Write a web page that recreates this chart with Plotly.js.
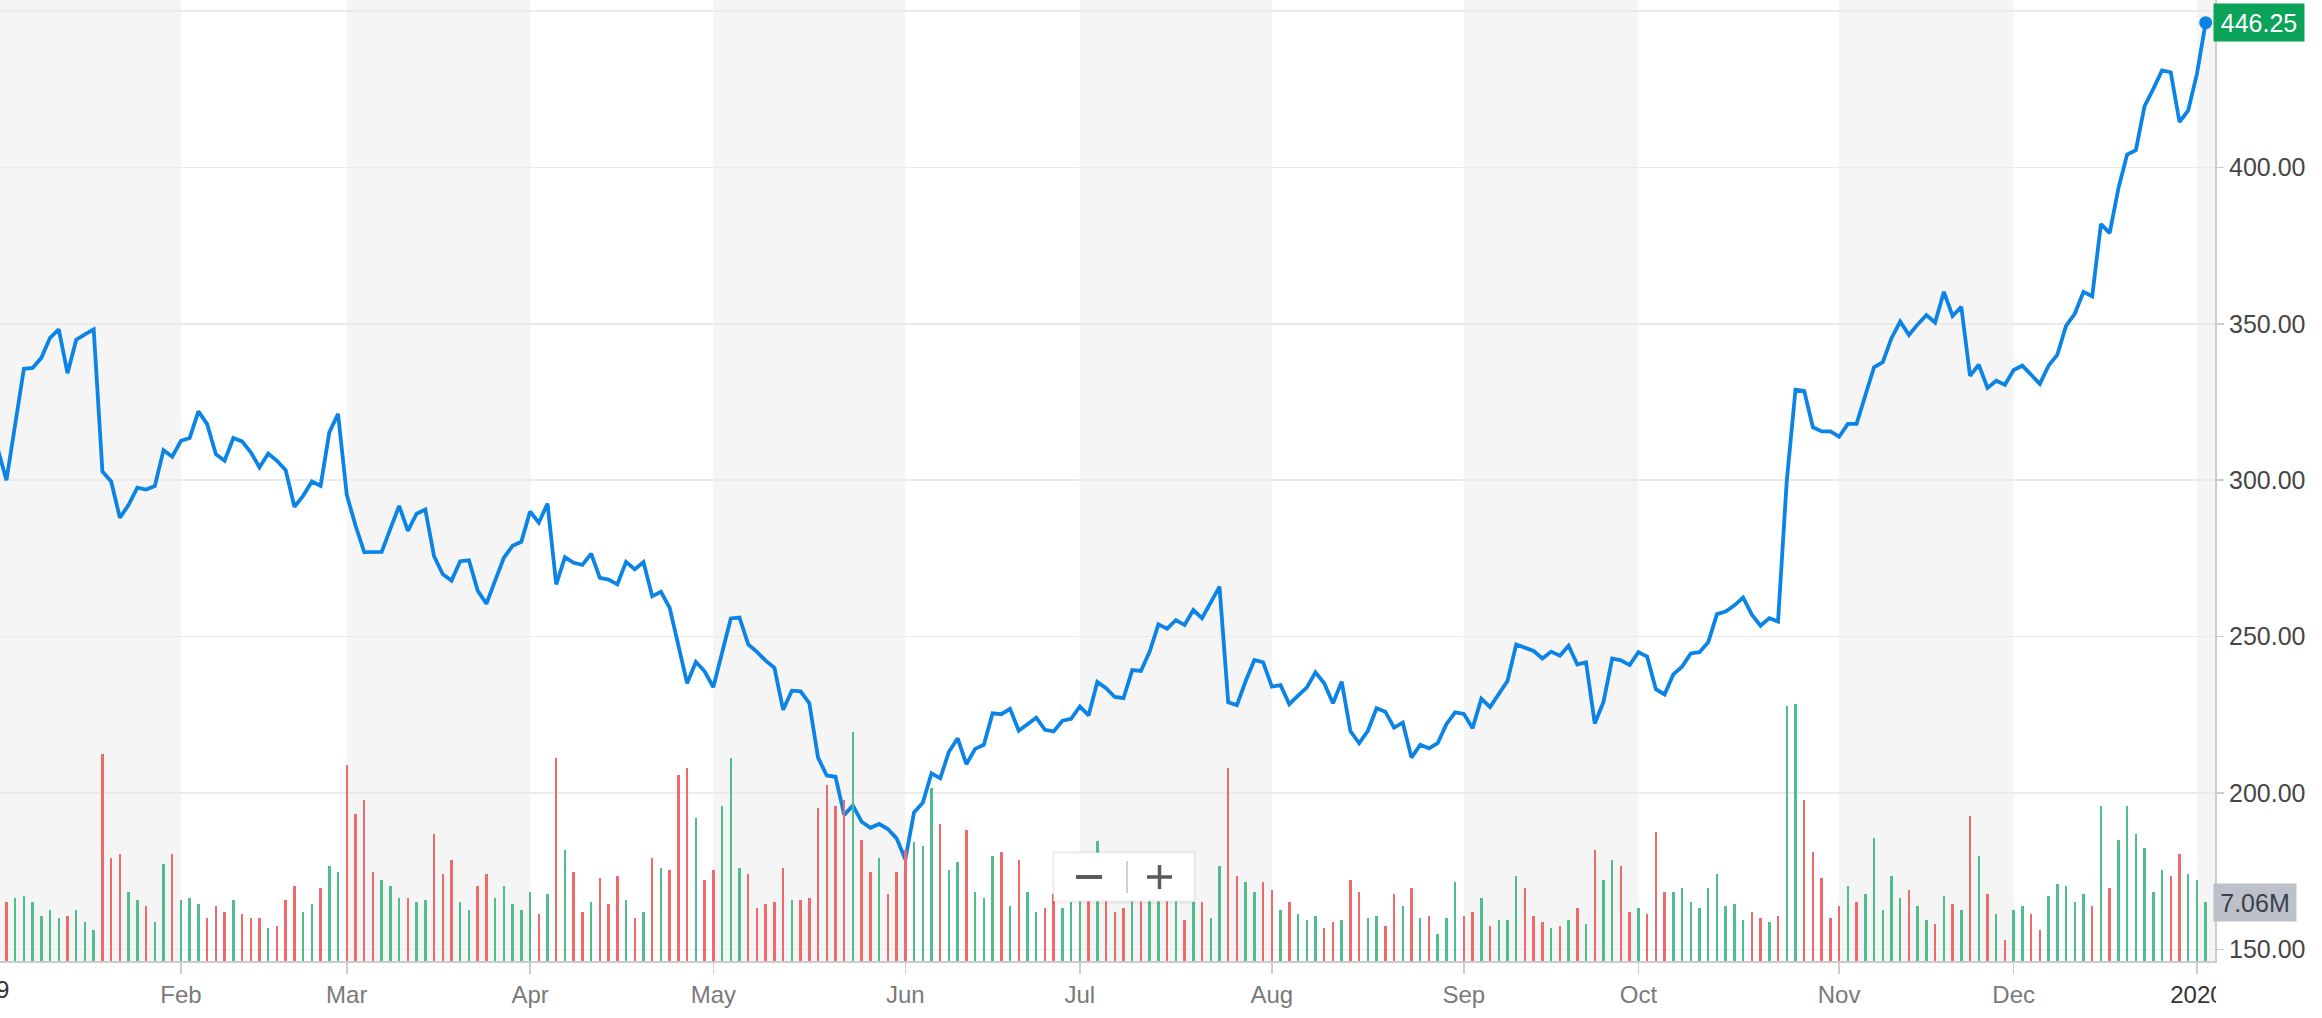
<!DOCTYPE html>
<html><head><meta charset="utf-8">
<script src="https://cdn.plot.ly/plotly-3.0.1.min.js"></script>
<style>html,body{margin:0;padding:0;background:#fff;}#chart{width:2322px;height:1018px;}</style>
</head><body><div id="chart"></div>
<script>
// Daily closing prices (USD), one per trading day, Jan 2 2019 .. Jan 3 2020
const closePrices = [
310.1, 300.0, 317.7, 335.6, 335.9, 339.1, 345.5, 348.2, 334.2, 344.9,
346.6, 348.2, 302.8, 299.6, 288.0, 292.1, 297.6, 297.0, 298.1, 309.6,
307.5, 312.6, 313.5, 322.0, 317.9, 308.3, 306.2, 313.5, 312.4, 308.9,
304.1, 308.5, 306.2, 303.2, 291.5, 295.0, 299.6, 298.2, 315.3, 321.2,
295.3, 285.5, 277.0, 277.1, 277.1, 284.5, 291.8, 283.8, 289.3, 290.6,
275.7, 269.9, 267.9, 274.1, 274.4, 264.7, 260.5, 267.9, 275.2, 279.0,
280.3, 290.0, 286.4, 292.5, 266.7, 275.4, 273.6, 272.9, 276.5, 268.8,
268.2, 266.7, 273.9, 271.5, 273.8, 262.9, 264.3, 259.2, 247.6, 235.1,
241.9, 238.9, 233.8, 244.8, 255.8, 256.1, 247.5, 245.1, 242.3, 240.0,
226.6, 232.7, 232.5, 228.7, 211.3, 205.6, 205.2, 193.0, 196.0, 190.8,
188.9, 190.1, 188.5, 185.5, 178.8, 193.8, 196.9, 206.3, 204.7, 213.2,
217.5, 209.2, 214.1, 215.4, 225.5, 225.2, 226.9, 219.9, 222.0, 224.1,
220.2, 219.7, 223.1, 223.7, 227.7, 224.8, 235.5, 233.5, 230.7, 230.3,
239.3, 239.0, 245.2, 253.9, 252.5, 255.3, 253.7, 258.5, 255.9, 260.7,
266.0, 229.0, 228.1, 235.8, 242.5, 241.8, 234.0, 234.5, 228.4, 231.1,
233.7, 238.6, 235.1, 228.7, 235.6, 219.8, 215.9, 219.9, 227.1, 226.0,
220.9, 222.5, 211.3, 215.4, 214.3, 215.9, 222.0, 225.8, 225.3, 220.7,
230.1, 227.5, 231.8, 235.8, 247.5, 246.3, 245.4, 243.0, 245.2, 243.9,
247.1, 241.1, 241.8, 222.2, 229.1, 243.0, 242.4, 240.9, 245.0, 243.6,
233.2, 231.5, 237.9, 240.4, 244.6, 245.0, 248.2, 257.2, 258.0, 260.0,
262.5, 257.0, 253.5, 255.9, 254.8, 299.8, 328.9, 328.5, 316.9, 315.6,
315.6, 313.9, 318.0, 318.0, 327.0, 336.1, 337.7, 345.4, 350.7, 346.4,
349.8, 352.8, 350.4, 360.2, 352.5, 355.4, 333.4, 336.9, 329.5, 331.8,
330.5, 335.2, 336.6, 333.7, 330.8, 336.6, 340.1, 349.3, 353.2, 360.2,
358.8, 381.9, 379.0, 393.3, 404.1, 405.5, 419.6, 425.1, 431.0, 430.4,
414.5, 418.2, 429.9, 446.25
];

// Daily volume (millions of shares)
const volumesM = [
11, 7.06, 7.54, 7.74, 7.06, 5.39, 6.06, 5.15, 5.39, 6.06,
4.67, 3.75, 24.8, 12.3, 12.8, 8.26, 7.34, 6.58, 4.67, 11.65,
12.85, 7.34, 7.54, 6.86, 5.15, 6.58, 5.87, 7.34, 5.67, 5.15,
5.15, 3.99, 4.23, 7.34, 8.98, 5.9, 6.86, 8.74, 11.37, 10.65,
23.5, 17.6, 19.3, 10.65, 9.74, 8.98, 7.58, 7.58, 7.06, 7.34,
15.2, 10.45, 12.1, 7.06, 6.14, 8.98, 10.45, 7.58, 8.98, 6.86,
6.14, 8.26, 5.67, 8.06, 24.3, 13.25, 10.65, 5.87, 7.06, 9.94,
6.82, 10.17, 7.3, 5.15, 5.87, 12.33, 11.09, 10.85, 22.3, 23.1,
17.1, 9.66, 10.85, 18.5, 24.3, 11.09, 10.45, 6.34, 6.82, 7.06,
11.09, 7.3, 7.3, 7.54, 18.3, 21.1, 18.55, 19.3, 27.4, 14.5,
10.65, 12.33, 8.02, 10.65, 13.25, 14.24, 13.77, 20.67, 16.4, 10.85,
11.8, 15.7, 8.26, 7.54, 12.57, 13.0, 6.58, 12.1, 8.26, 5.87,
6.34, 8.0, 6.34, 7.06, 9.0, 8.5, 14.4, 9.0, 5.87, 6.34,
8.5, 8.0, 9.5, 11.0, 8.0, 9.0, 4.95, 7.06, 7.06, 5.15,
11.37, 23.1, 10.17, 9.46, 8.26, 9.46, 8.5, 6.1, 7.06, 5.63,
4.9, 5.39, 3.95, 4.67, 4.9, 9.7, 8.26, 5.15, 5.39, 4.19,
8.02, 6.58, 8.74, 5.15, 5.39, 3.23, 5.15, 9.46, 5.39, 5.87,
7.54, 4.19, 4.9, 4.9, 10.17, 8.74, 5.39, 4.67, 3.95, 4.19,
4.9, 6.34, 4.43, 13.25, 9.7, 12.1, 11.37, 5.87, 6.34, 5.63,
15.44, 8.26, 8.26, 8.74, 7.06, 6.34, 8.74, 10.4, 6.58, 6.82,
4.9, 5.87, 5.15, 4.67, 5.39, 30.5, 30.8, 19.3, 13.05, 9.94,
5.15, 6.58, 8.98, 7.06, 8.02, 14.72, 6.1, 10.17, 7.54, 8.5,
6.58, 4.9, 4.43, 7.78, 6.82, 6.1, 17.36, 12.57, 8.02, 5.63,
2.51, 6.1, 6.58, 5.63, 3.71, 7.78, 9.22, 8.98, 7.06, 8.02,
6.58, 18.55, 8.74, 14.5, 18.55, 15.2, 13.5, 8.26, 10.9, 10.17,
12.8, 10.4, 9.7, 7.06
];

// Day direction (U = up day, D = down day)
const volumeDirection = (
"DDUUUUUUDU" + "UUDDDUUDUU" + "DUUUDDDUDD" + "DUDDDUUDUU" + "DDDDUUUDUU" +
"DDDUUDDUUU" + "UUDUDUDDUD" + "DDUDUDUDDD" + "UDDUUUDDDD" + "DUDDDDDDUD" +
"DUDDDUUUDU" + "UDUUUDUDUU" + "DDUUUDUDDD" + "UDUUDUDUDU" + "UDDUUDDUDU" +
"UUDDUDDUUD" + "DUDUDUUUDD" + "UDUUUDDDUD" + "UDUDUUDDUD" + "DDUUUUUUUU" +
"UDDUDUUDDD" + "DDUDUUUUUD" + "UUDUDUDUDU" + "DUUDDUUUUU" + "DUDUUUUUUD" +
"DUUU").split("");

// First trading day index of each month and its label
const monthTickIndex = [0, 21, 40, 61, 82, 104, 124, 146, 168, 188, 211, 231, 252];
const monthTickLabels = ["2019", "Feb", "Mar", "Apr", "May", "Jun", "Jul", "Aug", "Sep", "Oct", "Nov", "Dec", "2020"];

const lastPriceText = "446.25";
const lastVolumeText = "7.06M";

// ---------- geometry / styling ----------
const W = 2322, H = 1018;
const PLOT_W = 2215, PLOT_H = 961;
const FONT = "Liberation Sans, Arial, Helvetica, sans-serif";
const LINE_BLUE = "#0b84e6";
const UP_GREEN = "#4fbd8c";
const DOWN_RED = "#ef6b6b";
const BAND = "#f5f5f5";

const dayIndex = closePrices.map((_, i) => i);
const n = closePrices.length;
const px = v => v / PLOT_W;          // pixel -> paper x
const py = v => 1 - v / PLOT_H;      // pixel -> paper y

const volumeTrace = {
  type: "bar", x: dayIndex, y: volumesM, yaxis: "y2",
  width: 0.28,
  marker: { color: volumeDirection.map(d => d === "U" ? UP_GREEN : DOWN_RED), line: { width: 0 } },
  hoverinfo: "skip", showlegend: false
};
const priceTrace = {
  type: "scatter", mode: "lines", x: dayIndex, y: closePrices,
  line: { color: LINE_BLUE, width: 3.8, shape: "linear" },
  hoverinfo: "skip", showlegend: false
};
const lastDot = {
  type: "scatter", mode: "markers", x: [dayIndex[n - 1]], y: [closePrices[n - 1]],
  marker: { color: LINE_BLUE, size: 13 }, cliponaxis: false,
  hoverinfo: "skip", showlegend: false
};

// alternating month bands (gray for Jan, Mar, May, Jul, Sep, Nov, Jan)
const bandEdges = [-5].concat(monthTickIndex.slice(1)).concat([260]);
const shapes = [];
for (let k = 0; k < bandEdges.length - 1; k += 2) {
  shapes.push({ type: "rect", xref: "x", yref: "paper", x0: bandEdges[k], x1: bandEdges[k + 1], y0: 0, y1: 1,
    fillcolor: BAND, line: { width: 0 }, layer: "below" });
}
// zoom control overlay (− | +)
shapes.push({ type: "rect", xref: "paper", yref: "paper", x0: px(1052), x1: px(1196), y0: py(904), y1: py(851),
  fillcolor: "rgba(0,0,0,0.05)", line: { width: 0 }, layer: "above" });
shapes.push({ type: "rect", xref: "paper", yref: "paper", x0: px(1054), x1: px(1194), y0: py(901), y1: py(853),
  fillcolor: "#ffffff", line: { color: "#ececec", width: 1 }, layer: "above" });
shapes.push({ type: "line", xref: "paper", yref: "paper", x0: px(1076), x1: px(1102), y0: py(877), y1: py(877),
  line: { color: "#5a5a5a", width: 4 }, layer: "above" });
shapes.push({ type: "line", xref: "paper", yref: "paper", x0: px(1127), x1: px(1127), y0: py(893), y1: py(861),
  line: { color: "#d0d0d0", width: 2 }, layer: "above" });
shapes.push({ type: "line", xref: "paper", yref: "paper", x0: px(1147), x1: px(1172), y0: py(877), y1: py(877),
  line: { color: "#5a5a5a", width: 3.5 }, layer: "above" });
shapes.push({ type: "line", xref: "paper", yref: "paper", x0: px(1159.5), x1: px(1159.5), y0: py(889), y1: py(865),
  line: { color: "#5a5a5a", width: 3.5 }, layer: "above" });
// clip the "2020" label at the right axis line like the original
shapes.push({ type: "rect", xref: "paper", yref: "paper", x0: px(2216), x1: px(2260), y0: py(1015), y1: py(970),
  fillcolor: "#ffffff", line: { width: 0 }, layer: "above" });

const xTickText = monthTickLabels.slice(1).map((t, k, arr) =>
  k === arr.length - 1 ? '<span style="color:#333333">' + t + '</span>' : t);

const annotations = [
  { xref: "paper", yref: "paper", x: px(11), y: py(989), xanchor: "right", yanchor: "middle",
    text: monthTickLabels[0], showarrow: false, font: { family: FONT, size: 24, color: "#333333" } },
  { xref: "paper", yref: "y", x: 1, xshift: -2, y: closePrices[n - 1], xanchor: "left", yanchor: "middle",
    text: lastPriceText, showarrow: false, bgcolor: "#0ba35a", borderpad: 3, width: 84, height: 31,
    font: { family: FONT, size: 25, color: "#ffffff" } },
  { xref: "paper", yref: "y2", x: 1, xshift: -2, y: volumesM[n - 1], xanchor: "left", yanchor: "middle",
    text: lastVolumeText, showarrow: false, bgcolor: "#bcc0c9", borderpad: 3, width: 76, height: 31,
    font: { family: FONT, size: 25, color: "#3b404b" } }
];

const layout = {
  width: W, height: H, autosize: false,
  margin: { l: 0, r: W - PLOT_W, t: 0, b: H - PLOT_H, pad: 0 },
  paper_bgcolor: "#ffffff", plot_bgcolor: "#ffffff",
  font: { family: FONT, size: 24, color: "#464646" },
  showlegend: false, barmode: "overlay", bargap: 0,
  xaxis: {
    range: [0.264, 254.07], fixedrange: true,
    tickmode: "array", tickvals: monthTickIndex.slice(1), ticktext: xTickText,
    showgrid: false, zeroline: false,
    showline: true, linecolor: "#cccccc", linewidth: 2,
    ticks: "outside", ticklen: 11, tickwidth: 1.5, tickcolor: "#cccccc",
    tickfont: { family: FONT, size: 24, color: "#7a7a7a" }
  },
  yaxis: {
    side: "right", range: [146.3, 453.5], fixedrange: true,
    tickmode: "linear", tick0: 150, dtick: 50, tickformat: ".2f",
    showgrid: true, gridcolor: "#ebebeb", gridwidth: 1.5, zeroline: false,
    showline: true, linecolor: "#cccccc", linewidth: 2,
    ticks: "outside", ticklen: 7, tickwidth: 1.5, tickcolor: "#cccccc",
    tickfont: { family: FONT, size: 25, color: "#464646" }
  },
  yaxis2: { overlaying: "y", range: [0, 115.0], visible: false, fixedrange: true },
  shapes: shapes,
  annotations: annotations
};

Plotly.newPlot("chart", [volumeTrace, priceTrace, lastDot], layout, { displayModeBar: false, staticPlot: true });
</script>
</body></html>
